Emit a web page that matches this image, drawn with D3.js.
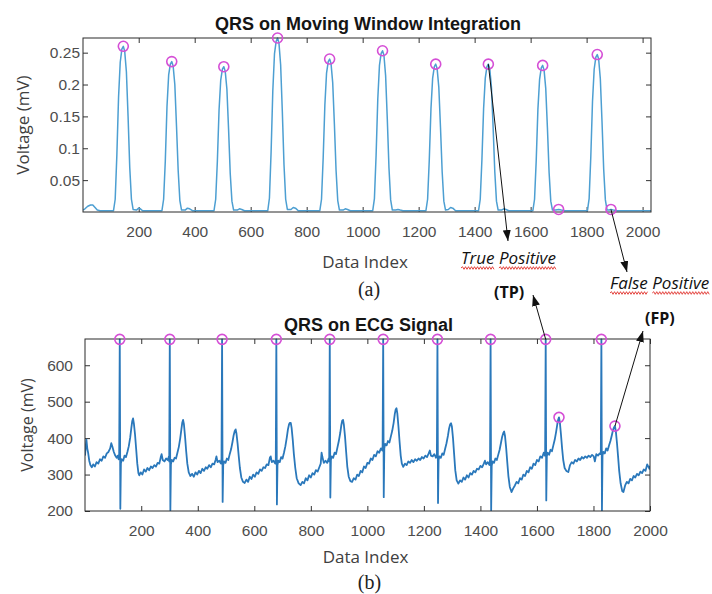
<!DOCTYPE html>
<meta charset="utf-8">
<style>
body { margin: 0; background: #fff; }
text { font-family: "Liberation Sans", Arial, sans-serif; }
.tick-label { font-size: 15.5px; fill: #4d4d4d; }
.axis-label { font: 17px "Open Sans", sans-serif; fill: #404040; }
.title { font-weight: bold; font-size: 18px; fill: #151515; }
.caption { font: 20px "Liberation Serif", serif; fill: #222; }
.note { font: italic 17px "Open Sans", sans-serif; fill: #111; }
.note-tag { font: bold 16px "Open Sans", sans-serif; fill: #111; }
</style>
<body>
<script src="https://cdn.jsdelivr.net/npm/d3@7/dist/d3.min.js"></script>
<script>

var xTicks = [200, 400, 600, 800, 1000, 1200, 1400, 1600, 1800, 2000];
var mwiTicks = [0.05, 0.1, 0.15, 0.2, 0.25];
var ecgTicks = [200, 300, 400, 500, 600];

// moving window integration output, [data index, value]
var mwi = [
  [1,0.003],[8,0.005],[18,0.009],[28,0.011],[36,0.011],[44,0.007],[52,0.003],[62,0.002],[100,0.002],
  [110,0.002],[116,0.02],[122,0.09],[128,0.18],[134,0.235],[140,0.256],[145,0.260],[150,0.252],[156,0.22],[162,0.15],[168,0.07],[174,0.02],[180,0.004],[192,0.003],[200,0.006],[206,0.005],[214,0.002],[250,0.002],
  [283,0.002],[289,0.02],[295,0.08],[301,0.165],[307,0.215],[313,0.232],[318,0.236],[323,0.229],[329,0.2],[335,0.135],[341,0.065],[347,0.018],[353,0.003],[366,0.003],[374,0.006],[382,0.005],[392,0.002],[440,0.002],
  [469,0.002],[475,0.02],[481,0.08],[487,0.16],[493,0.207],[499,0.224],[504,0.228],[509,0.221],[515,0.193],[521,0.13],[527,0.06],[533,0.017],[539,0.003],[552,0.003],[560,0.005],[568,0.004],[578,0.002],[630,0.002],
  [661,0.002],[667,0.022],[673,0.095],[679,0.19],[685,0.248],[691,0.268],[696,0.273],[701,0.265],[707,0.231],[713,0.158],[719,0.074],[725,0.02],[731,0.004],[744,0.004],[752,0.007],[760,0.006],[770,0.002],[820,0.002],
  [847,0.002],[853,0.02],[859,0.085],[865,0.168],[871,0.218],[877,0.236],[882,0.240],[887,0.233],[893,0.203],[899,0.138],[905,0.065],[911,0.018],[917,0.003],[930,0.003],[938,0.005],[946,0.004],[956,0.002],[1010,0.002],
  [1036,0.002],[1042,0.021],[1048,0.089],[1054,0.177],[1060,0.23],[1066,0.249],[1071,0.253],[1076,0.246],[1082,0.214],[1088,0.146],[1094,0.069],[1100,0.019],[1106,0.003],[1118,0.003],[1126,0.004],[1134,0.003],[1144,0.002],[1200,0.002],
  [1226,0.002],[1232,0.02],[1238,0.082],[1244,0.162],[1250,0.21],[1256,0.228],[1261,0.232],[1266,0.225],[1272,0.196],[1278,0.133],[1284,0.063],[1290,0.017],[1296,0.003],[1306,0.004],[1314,0.007],[1322,0.006],[1332,0.002],[1390,0.002],
  [1414,0.002],[1420,0.02],[1426,0.082],[1432,0.162],[1438,0.21],[1444,0.228],[1449,0.232],[1454,0.225],[1460,0.196],[1466,0.133],[1472,0.063],[1478,0.017],[1484,0.003],[1496,0.003],[1504,0.005],[1512,0.004],[1522,0.002],[1580,0.002],
  [1608,0.002],[1614,0.02],[1620,0.081],[1626,0.161],[1632,0.208],[1638,0.226],[1643,0.230],[1648,0.223],[1654,0.194],[1660,0.132],[1666,0.062],[1672,0.017],[1678,0.003],[1690,0.003],[1700,0.004],[1710,0.003],[1722,0.002],[1775,0.002],
  [1803,0.002],[1809,0.021],[1815,0.087],[1821,0.173],[1827,0.224],[1833,0.243],[1838,0.247],[1843,0.24],[1849,0.209],[1855,0.142],[1861,0.067],[1867,0.019],[1873,0.003],[1880,0.003],[1887,0.004],[1895,0.003],[1910,0.002],[1960,0.002],[2030,0.002]
];
var mwiHits = [[145,0.260],[318,0.236],[504,0.228],[696,0.273],[882,0.240],[1071,0.253],[1261,0.232],[1449,0.232],[1643,0.230],[1838,0.247],[1700,0.004],[1887,0.004]];

// raw ECG trace, [data index, mV]
var ecg = [
  [1,352],[4,380],[6,396],[9,372],[12,360],[16,338],[20,326],[25,320],[30,328],[36,322],[42,334],[48,330],[54,342],[60,338],[66,350],[72,346],[78,358],[84,362],[90,372],[94,386],[98,376],[103,362],[108,352],[113,346],[117,352],[120,342],
  [122,356],[124,671],[126,206],[128,330],[131,342],
  [136,338],[141,352],[146,348],[151,362],[156,378],[161,402],[165,428],[168,446],[171,454],[174,440],[178,410],[182,370],[186,330],[190,304],[193,298],
  [198,306],[204,300],[210,314],[216,308],[222,318],[228,312],[234,322],[240,318],[246,326],[252,322],[258,332],[264,330],[269,348],[272,356],[276,340],[282,336],[288,344],[294,340],[298,350],
  [299,336],[301,671],[303,202],[305,328],[308,340],
  [313,336],[318,346],[323,344],[328,360],[333,376],[338,400],[342,424],[345,442],[348,450],[351,438],[355,404],[359,364],[363,330],[368,306],[374,296],
  [380,302],[386,294],[392,306],[398,300],[404,310],[410,304],[416,316],[422,310],[428,320],[434,316],[440,326],[446,320],[452,330],[458,328],[463,340],[466,350],[470,334],[476,338],[482,330],
  [484,344],[486,671],[488,225],[490,326],[493,336],
  [498,332],[503,344],[508,340],[513,356],[518,370],[523,390],[527,408],[531,420],[534,424],[537,412],[541,384],[545,350],[549,318],[554,292],[560,280],[566,277],
  [572,286],[578,280],[584,294],[590,288],[596,300],[602,294],[608,306],[614,302],[620,314],[626,310],[632,320],[638,318],[644,328],[650,326],[655,346],[658,350],[662,334],[668,338],[674,330],
  [676,342],[678,671],[680,218],[682,326],[685,338],
  [690,334],[695,348],[700,344],[705,360],[710,378],[715,402],[719,424],[723,438],[726,442],[729,442],[732,428],[736,396],[740,356],[745,318],[750,290],[757,276],[764,271],
  [770,280],[776,276],[782,290],[788,284],[794,298],[800,292],[806,304],[812,300],[818,312],[824,308],[830,320],[835,330],[838,360],[841,348],[846,332],[852,338],[858,332],[863,344],
  [865,336],[867,671],[869,237],[871,340],[874,350],
  [879,346],[884,360],[889,356],[894,374],[899,392],[904,414],[908,436],[911,448],[914,450],[917,436],[921,404],[925,362],[929,322],[934,294],[940,282],[946,280],
  [952,290],[958,286],[964,300],[970,296],[976,310],[982,306],[988,322],[994,318],[1000,332],[1006,330],[1012,344],[1018,340],[1024,354],[1030,350],[1036,364],[1042,360],[1048,372],[1053,366],
  [1054,378],[1056,671],[1058,238],[1060,372],[1063,384],
  [1068,380],[1073,392],[1078,388],[1083,404],[1088,420],[1093,442],[1097,466],[1100,478],[1103,482],[1106,468],[1110,432],[1114,390],[1118,352],[1122,330],[1127,321],
  [1133,330],[1139,326],[1145,336],[1151,332],[1157,340],[1163,334],[1169,342],[1175,338],[1181,344],[1187,340],[1193,348],[1199,344],[1205,352],[1211,348],[1217,358],[1221,366],[1225,352],[1231,350],[1237,356],[1243,346],
  [1246,354],[1248,671],[1250,222],[1252,340],[1255,350],
  [1260,346],[1265,358],[1270,354],[1275,370],[1280,386],[1285,406],[1289,426],[1293,438],[1296,441],[1299,432],[1303,400],[1307,356],[1311,312],[1316,284],[1322,275],
  [1328,284],[1334,280],[1340,292],[1346,286],[1352,298],[1358,292],[1364,304],[1370,300],[1376,310],[1382,306],[1388,316],[1394,314],[1400,324],[1406,320],[1412,330],[1416,338],[1420,328],[1426,334],[1432,326],
  [1434,340],[1436,671],[1438,202],[1440,324],[1443,336],
  [1448,332],[1453,344],[1458,340],[1463,354],[1468,368],[1473,388],[1477,404],[1481,414],[1484,418],[1487,406],[1491,374],[1495,334],[1499,296],[1504,266],[1510,252],
  [1516,262],[1522,270],[1528,280],[1534,276],[1540,290],[1546,286],[1552,300],[1558,296],[1564,310],[1570,306],[1576,320],[1582,316],[1588,330],[1594,326],[1600,340],[1606,336],[1612,350],[1618,346],[1624,360],[1628,352],
  [1629,362],[1631,671],[1633,229],[1635,350],[1638,360],
  [1643,354],[1648,368],[1653,364],[1658,380],[1663,396],[1668,418],[1672,438],[1675,450],[1678,457],[1681,444],[1685,410],[1689,372],[1693,340],[1698,318],[1704,310],[1711,307],
  [1717,326],[1723,334],[1729,330],[1735,340],[1741,336],[1747,344],[1753,340],[1759,348],[1765,344],[1771,350],[1777,346],[1783,352],[1789,348],[1795,354],[1801,350],[1805,336],[1810,356],[1816,352],[1822,358],
  [1826,356],[1828,671],[1830,200],[1832,352],[1835,362],
  [1840,358],[1845,372],[1850,366],[1855,380],[1860,392],[1865,408],[1869,422],[1873,430],[1876,433],[1879,420],[1883,388],[1887,350],[1891,310],[1896,276],[1902,254],[1906,252],
  [1912,270],[1918,280],[1924,276],[1930,288],[1936,284],[1942,296],[1948,292],[1954,302],[1960,298],[1966,308],[1972,304],[1978,314],[1984,310],[1990,328],[1994,322],[1998,316],[2000,324]
];
var ecgHits = [[124,671],[301,671],[486,671],[678,671],[867,671],[1056,671],[1248,671],[1436,671],[1631,671],[1828,671],[1678,457],[1876,433]];

var width = 712,
    height = 594;

var svg = d3.select("body").append("svg")
    .attr("width", width)
    .attr("height", height);

var defs = svg.append("defs");
defs.append("marker")
    .attr("id", "arrow")
    .attr("markerUnits", "userSpaceOnUse")
    .attr("markerWidth", 11).attr("markerHeight", 8)
    .attr("refX", 11).attr("refY", 4)
    .attr("orient", "auto")
  .append("path")
    .attr("d", "M0,0L11,4L0,8Z")
    .attr("fill", "#111");

function panel(o) {
  var x = d3.scaleLinear().domain(o.xDomain).range([o.left, o.right]);
  var y = d3.scaleLinear().domain(o.yDomain).range([o.bottom, o.top]);
  var g = svg.append("g");

  defs.append("clipPath").attr("id", o.id)
    .append("rect")
      .attr("x", o.left).attr("y", o.top - 6)
      .attr("width", o.right - o.left).attr("height", o.bottom - o.top + 6);

  function styleAxis(sel) {
    sel.attr("font-size", null).attr("font-family", null);
    sel.select(".domain").remove();
    sel.selectAll(".tick line").attr("stroke", "#333");
    sel.selectAll(".tick text").attr("class", "tick-label").attr("fill", null);
  }

  g.append("g")
      .attr("transform", "translate(0," + o.bottom + ")")
      .call(d3.axisBottom(x).tickValues(xTicks).tickFormat(String)
        .tickSizeInner(-5).tickSizeOuter(0).tickPadding(14))
      .call(styleAxis);
  g.append("g")
      .attr("transform", "translate(0," + o.top + ")")
      .call(d3.axisTop(x).tickValues(xTicks).tickFormat("")
        .tickSizeInner(-5).tickSizeOuter(0))
      .call(styleAxis);
  g.append("g")
      .attr("transform", "translate(" + o.left + ",0)")
      .call(d3.axisLeft(y).tickValues(o.yTicks).tickFormat(String)
        .tickSizeInner(-5).tickSizeOuter(0).tickPadding(o.yPad))
      .call(styleAxis);
  g.append("g")
      .attr("transform", "translate(" + o.right + ",0)")
      .call(d3.axisRight(y).tickValues(o.yTicks).tickFormat("")
        .tickSizeInner(-5).tickSizeOuter(0))
      .call(styleAxis);

  g.append("path")
      .datum(o.data)
      .attr("clip-path", "url(#" + o.id + ")")
      .attr("fill", "none")
      .attr("stroke", o.color)
      .attr("stroke-width", o.lineWidth)
      .attr("stroke-linejoin", "round")
      .attr("d", d3.line()
        .x(function(d) { return x(d[0]); })
        .y(function(d) { return y(d[1]); }));

  g.append("rect")
      .attr("x", o.left).attr("y", o.top)
      .attr("width", o.right - o.left).attr("height", o.bottom - o.top)
      .attr("fill", "none")
      .attr("stroke", "#2b2b2b");

  g.selectAll("circle")
      .data(o.hits)
    .enter().append("circle")
      .attr("cx", function(d) { return x(d[0]); })
      .attr("cy", function(d) { return y(d[1]); })
      .attr("r", 5)
      .attr("fill", "none")
      .attr("stroke", "#d54fd6")
      .attr("stroke-width", 1.6);

  var mid = (o.left + o.right) / 2;
  g.append("text").attr("class", "title")
      .attr("x", mid + 1).attr("y", o.titleY)
      .attr("text-anchor", "middle")
      .text(o.title);
  g.append("text").attr("class", "axis-label")
      .attr("x", mid - 2).attr("y", o.labelY)
      .attr("text-anchor", "middle")
      .text("Data Index");
  g.append("text").attr("class", "axis-label")
      .attr("transform", "translate(" + o.yLabelX + "," + ((o.top + o.bottom) / 2) + ")rotate(-90)")
      .attr("text-anchor", "middle")
      .style("font-size", o.yLabelSize + "px")
      .text("Voltage (mV)");
  g.append("text").attr("class", "caption")
      .attr("x", mid + 2).attr("y", o.captionY)
      .attr("text-anchor", "middle")
      .text(o.caption);

  return {x: x, y: y};
}

var panelA = panel({
  id: "clip-a", left: 83, right: 651, top: 38, bottom: 212,
  xDomain: [1, 2030], yDomain: [0, 0.273], yTicks: mwiTicks, yPad: 3,
  data: mwi, hits: mwiHits, color: "#4d9fd2", lineWidth: 1.5,
  title: "QRS on Moving Window Integration", titleY: 30, labelY: 268,
  yLabelX: 29, yLabelSize: 17, caption: "(a)", captionY: 296
});

var panelB = panel({
  id: "clip-b", left: 85, right: 650, top: 339, bottom: 511,
  xDomain: [1, 2000], yDomain: [200, 672], yTicks: ecgTicks, yPad: 12,
  data: ecg, hits: ecgHits, color: "#2a78bb", lineWidth: 1.8,
  title: "QRS on ECG Signal", titleY: 331, labelY: 563,
  yLabelX: 33, yLabelSize: 16, caption: "(b)", captionY: 589
});

// annotation arrows from detected points to the labels
var arrows = [
  [panelA.x(1449), panelA.y(0.232), 508, 241],
  [panelA.x(1887), panelA.y(0.004), 627, 272],
  [panelB.x(1631), panelB.y(671), 533, 295],
  [panelB.x(1876), panelB.y(433), 643, 331]
];
svg.selectAll(".arrow")
    .data(arrows)
  .enter().append("line")
    .attr("class", "arrow")
    .attr("x1", function(d) { return d[0]; })
    .attr("y1", function(d) { return d[1]; })
    .attr("x2", function(d) { return d[2]; })
    .attr("y2", function(d) { return d[3]; })
    .attr("stroke", "#111")
    .attr("stroke-width", 1)
    .attr("marker-end", "url(#arrow)");

function squiggle(x0, x1, y) {
  var p = "M" + x0 + "," + y, up = true;
  for (var xx = x0 + 1.5; xx <= x1; xx += 1.5) {
    p += "L" + xx + "," + (y + (up ? -1.3 : 1.3));
    up = !up;
  }
  return p;
}

function note(label, x, y) {
  var t = svg.append("text").attr("class", "note")
      .attr("x", x).attr("y", y)
      .text(label);
  var node = t.node();
  var words = label.split(" "), start = 0;
  words.forEach(function(w) {
    var a = node.getStartPositionOfChar(start).x;
    var b = a + node.getSubStringLength(start, w.length);
    svg.append("path")
        .attr("d", squiggle(a, b, y + 4))
        .attr("fill", "none")
        .attr("stroke", "#e0302a")
        .attr("stroke-width", 0.9);
    start += w.length + 1;
  });
}

note("True Positive", 461, 264);
note("False Positive", 610, 289);

svg.append("text").attr("class", "note-tag")
    .attr("x", 494).attr("y", 298)
    .text("(TP)");
svg.append("text").attr("class", "note-tag")
    .attr("x", 645).attr("y", 324)
    .text("(FP)");

</script>
</body>
